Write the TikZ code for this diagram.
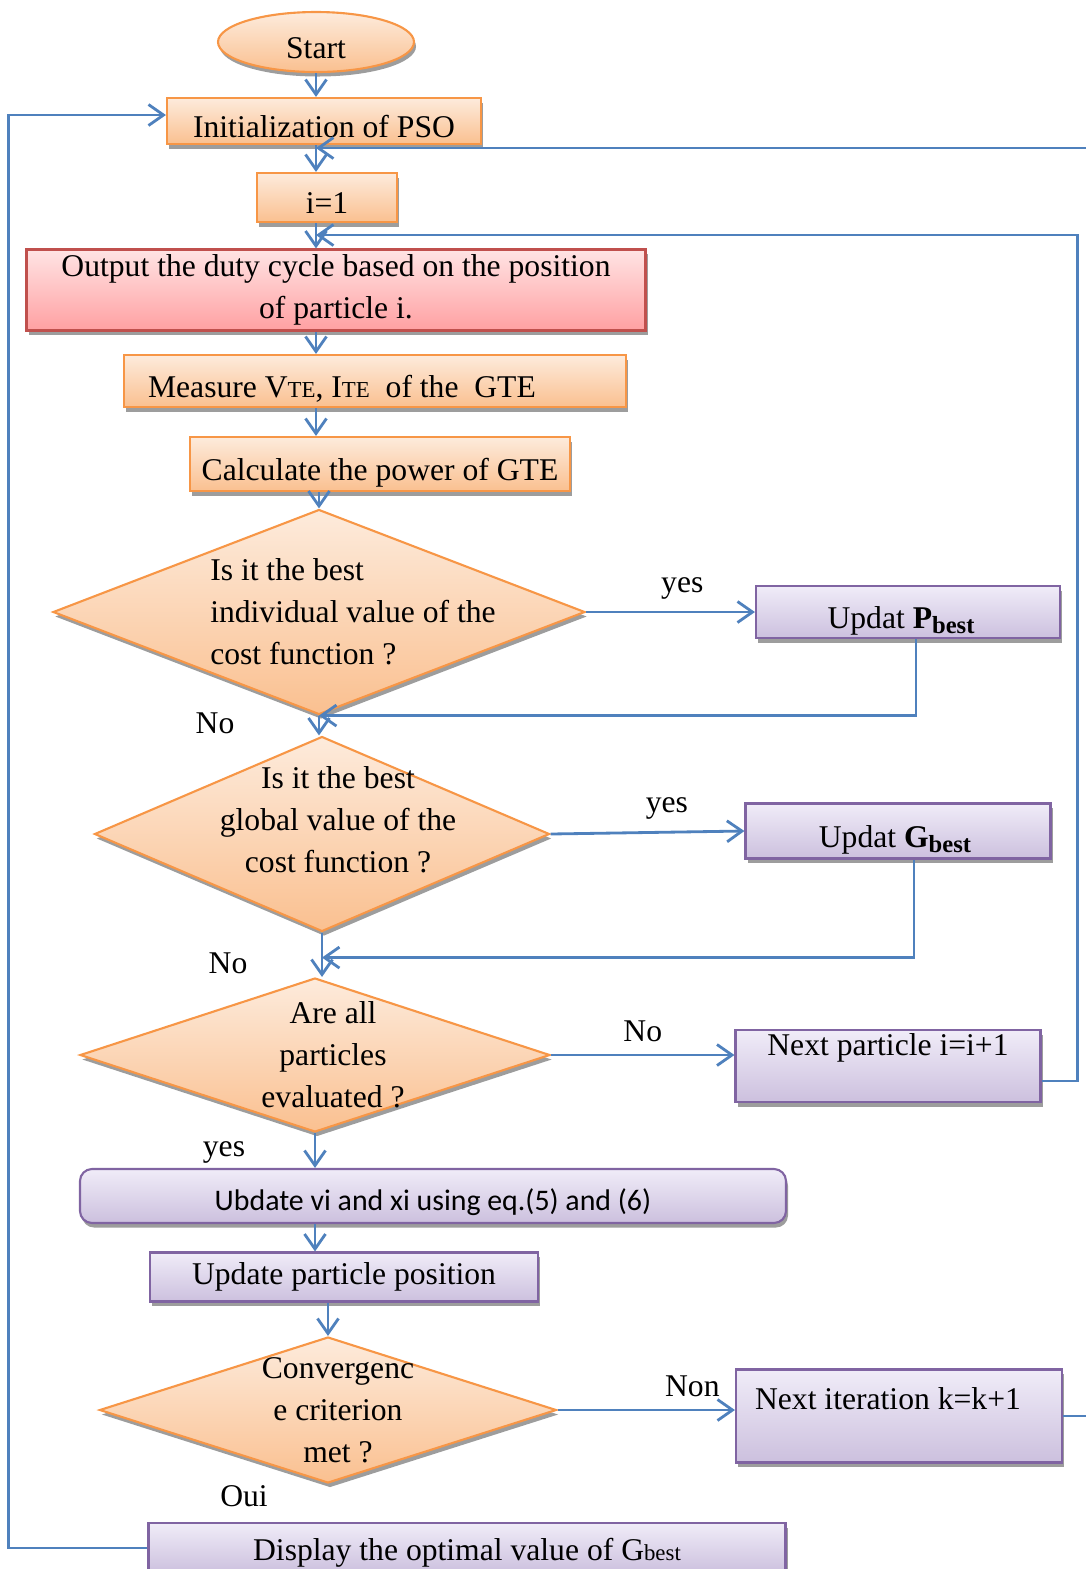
\documentclass[tikz,border=0pt]{standalone}
\usepackage{fontspec}
\setmainfont{Liberation Serif}
\newfontfamily\calibrifont{Carlito}
\usetikzlibrary{shapes.geometric,arrows.meta,shadows,calc}

\definecolor{lineblue}{RGB}{79,129,189}
\definecolor{orangeline}{RGB}{247,150,70}
\definecolor{orangetop}{RGB}{253,235,220}
\definecolor{orangebot}{RGB}{250,192,144}
\definecolor{redline}{RGB}{192,80,77}
\definecolor{redtop}{RGB}{255,228,228}
\definecolor{redbot}{RGB}{255,160,162}
\definecolor{purpleline}{RGB}{128,100,162}
\definecolor{purpletop}{RGB}{240,236,248}
\definecolor{purplebot}{RGB}{204,192,222}

\newcommand{\tesize}{\fontsize{6.5}{7}\selectfont}
\newcommand{\bestsub}[1]{\raisebox{-0.4ex}{\fontsize{7}{8}\selectfont\bfseries #1}}

\begin{document}
\begin{tikzpicture}[font=\fontsize{9}{12}\selectfont]

    % Styles
    \tikzstyle{boxshadow} = [drop shadow={shadow xshift=0.02cm, shadow yshift=-0.045cm, fill=black!55, opacity=0.7}]
    \tikzstyle{startstop} = [ellipse, inner sep=0pt, text height=0.32cm, text depth=0cm, draw=orangeline, line width=0.6pt, top color=orangetop, bottom color=orangebot, boxshadow]
    \tikzstyle{process} = [rectangle, minimum height=0.5cm, inner ysep=0pt, text height=0.32cm, text depth=0cm, text centered, draw=orangeline, line width=0.6pt, top color=orangetop, bottom color=orangebot, boxshadow]
    \tikzstyle{redbox} = [process, draw=redline, top color=redtop, bottom color=redbot]
    \tikzstyle{update} = [process, draw=purpleline, top color=purpletop, bottom color=purplebot]
    \tikzstyle{decision} = [diamond, aspect=1, inner sep=0pt, draw=orangeline, line width=0.6pt, top color=orangetop, bottom color=orangebot, boxshadow]
    \tikzstyle{arrow} = [line width=0.8pt, draw=lineblue, -{Straight Barb[length=1.5mm,width=2.1mm]}]

    \useasboundingbox (0,0) rectangle (10.86,-15.69);

    % Noeuds
    \node (start) [startstop, minimum width=1.96cm, minimum height=0.60cm] at (3.16,-0.42) {Start};
    \node (init) [process, minimum width=3.14cm, minimum height=0.46cm, below of=start, xshift=0.08cm, yshift=0.21cm] {Initialization of PSO};
    \node (i1) [process, minimum width=1.40cm, minimum height=0.49cm, below of=init, xshift=0.03cm, yshift=0.235cm] {i=1};
    \node (output) [redbox, text height={}, text depth={}, minimum width=6.19cm, minimum height=0.81cm, below of=i1, xshift=0.09cm, yshift=0.075cm, align=center] {Output the duty cycle based on the position\\ of particle i.};
    \node (measure) [process, minimum width=5.02cm, minimum height=0.52cm, below of=output, xshift=0.39cm, yshift=0.09cm] {Measure V{\tesize TE}, I{\tesize TE}\ \ of the\ \ GTE\hspace*{0.66cm}};
    \node (calc) [process, minimum width=3.80cm, minimum height=0.54cm, below of=measure, xshift=0.05cm, yshift=0.17cm] {Calculate the power of GTE};

    \node (d1) [decision, minimum width=5.32cm, minimum height=2.05cm, below of=calc, xshift=-0.61cm, yshift=-0.48cm] {};
    \node (d1txt) [align=left] at ([xshift=0.34cm]d1.center) {Is it the best\\ individual value of the\\ cost function ?};
    \node (pbest) [update, minimum width=3.04cm, minimum height=0.52cm, right of=d1, xshift=4.89cm] {Updat \textbf{P}\bestsub{best}\hspace*{0.14cm}};

    \node (d2) [decision, minimum width=4.55cm, minimum height=1.95cm, below of=d1, xshift=0.03cm, yshift=-1.22cm] {};
    \node (d2txt) [align=center] at ([xshift=0.16cm, yshift=0.14cm]d2.center) {Is it the best\\ global value of the\\ cost function ?};
    \node (gbest) [update, minimum width=3.05cm, minimum height=0.55cm, right of=d2, xshift=4.76cm, yshift=0.03cm] {Updat \textbf{G}\bestsub{best}\hspace*{0.06cm}};

    \node (d3) [decision, minimum width=4.70cm, minimum height=1.54cm, below of=d2, xshift=-0.07cm, yshift=-1.21cm] {};
    \node (d3txt) [align=center] at ([xshift=0.18cm]d3.center) {Are all\\ particles\\ evaluated ?};
    \node (nextp) [update, minimum width=3.05cm, text height=0.25cm, text depth=0.47cm, right of=d3, xshift=4.73cm, yshift=-0.11cm] {Next particle i=i+1};

    \node (ubdate) [update, rounded corners=0.12cm, text height=0.28cm, minimum width=7.06cm, minimum height=0.54cm, below of=d3, xshift=1.18cm, yshift=-0.41cm, font=\calibrifont\fontsize{8.5}{10}\selectfont] {Ubdate vi and xi using eq.(5) and (6)};
    \node (upp) [update, text height={}, text depth={}, minimum width=3.88cm, minimum height=0.49cm, below of=ubdate, xshift=-0.89cm, yshift=0.19cm] {Update particle position};

    \node (d4) [decision, minimum width=4.57cm, minimum height=1.46cm, below of=upp, xshift=-0.16cm, yshift=-0.33cm] {};
    \node (d4txt) [align=center] at ([xshift=0.10cm]d4.center) {Convergenc\\ e criterion\\ met ?};
    \node (nexti) [update, minimum width=3.26cm, text height=0.40cm, text depth=0.53cm, right of=d4, xshift=4.71cm, yshift=-0.06cm] {Next iteration k=k+1\hspace*{0.22cm}};
    \node (display) [update, minimum width=6.37cm, text height=0.37cm, text depth=0.13cm, below of=d4, xshift=1.39cm, yshift=-0.38cm] {Display the optimal value of G{\tesize best}};

    \node (no1) at ([xshift=-1.04cm, yshift=-0.08cm]d1.south) {No};
    \node (no2) at ([xshift=-0.94cm, yshift=-0.31cm]d2.south) {No};
    \node (yes3) at ([xshift=-0.91cm, yshift=-0.19cm]d3.south) {yes};
    \node (oui) at ([xshift=-0.84cm, yshift=-0.12cm]d4.south) {Oui};

    % Fleches
    \draw [arrow] (start) -- (start |- init.north);
    \draw [arrow] (init.south -| start) -- (i1.north -| start);
    \draw [arrow] (i1.south -| start) -- (output.north -| start);
    \draw [arrow] (output.south -| start) -- (measure.north -| start);
    \draw [arrow] (measure.south -| start) -- (calc.north -| start);
    \draw [arrow] (calc.south -| d1.north) -- (d1.north);
    \draw [arrow] (d1.east) -- node[above, pos=0.57] (yes1) {yes} (pbest.west);
    \draw [arrow] ([xshift=0.08cm]pbest.south) |- (d1.south);
    \draw [arrow] (d1.south) -- (d1.south |- d2.north);
    \draw [arrow] (d2.east) -- node[above, pos=0.6] (yes2) {yes} (gbest.west);
    \draw [arrow] ([xshift=0.16cm]gbest.south) |- ([yshift=-0.25cm]d2.south);
    \draw [arrow] (d2.south) -- (d2.south |- d3.north);
    \draw [arrow] (d3.east) -- node[above] (no3) {No} (d3.east -| nextp.west);
    \draw [arrow] ([yshift=-0.15cm]nextp.east) -- ++(0.36,0) |- ($(i1.south -| start)+(0,-0.12)$);
    \draw [arrow] (d3.south) -- (d3.south |- ubdate.north);
    \draw [arrow] (ubdate.south -| d3.south) -- (upp.north -| d3.south);
    \draw [arrow] (upp.south -| d4.north) -- (d4.north);
    \draw [arrow] (d4.east) -- node[above, pos=0.76] (non) {Non} (d4.east -| nexti.west);
    \draw [arrow] (nexti.east) -- ++(0.4,0) |- ($(init.south -| start)+(0,-0.03)$);
    \draw [arrow] (display.west) -- ++(-1.39,0) |- ([yshift=0.06cm]init.west);

\end{tikzpicture}
\end{document}
